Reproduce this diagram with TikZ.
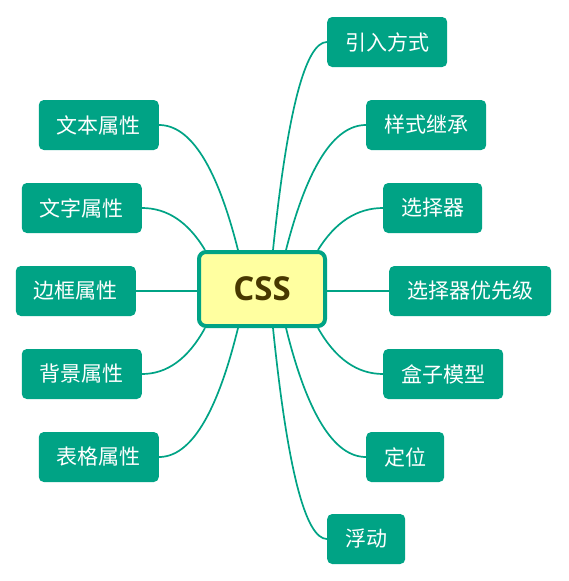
\documentclass[tikz,border=0pt]{standalone}
\usepackage{fontspec}
\usetikzlibrary{calc}
\newfontfamily\cjk{Noto Sans CJK SC}
\newfontfamily\latin{Open Sans}
\definecolor{mapgreen}{RGB}{0,163,133}
\definecolor{rootfill}{RGB}{255,255,160}
\definecolor{roottext}{RGB}{72,56,0}

\begin{document}
\begin{tikzpicture}[x=1pt, y=-1pt,
  root/.style={draw=mapgreen, line width=4pt, fill=rootfill, rounded corners=7pt,
    minimum width=126pt, minimum height=74pt, text=roottext,
    font=\latin\bfseries\fontsize{33}{36}\selectfont},
  topic/.style={fill=mapgreen, rounded corners=5pt, text=white, inner xsep=18pt,
    inner ysep=0pt, minimum height=50pt, font=\cjk\fontsize{21}{24}\selectfont},
  branch/.style={draw=mapgreen, line width=1.7pt}]
  \useasboundingbox (0,0) rectangle (568,581);

  % Central topic
  \node[root] (css) at (262,289) {CSS};

  % Right side topics (west anchor on the given point)
  \foreach \n/\t/\x/\y in {r1/引入方式/327/42, r2/样式继承/366/125, r3/选择器/383/208,
      r4/选择器优先级/389/291, r5/盒子模型/383/374, r6/定位/366/457, r7/浮动/327/539}
    \node[topic, anchor=west] (\n) at (\x,\y) {\t};

  % Left side topics (east anchor on the given point)
  \foreach \n/\t/\x/\y in {l1/文本属性/159/125, l2/文字属性/142/208, l3/边框属性/136/291,
      l4/背景属性/142/374, l5/表格属性/159/457}
    \node[topic, anchor=east] (\n) at (\x,\y) {\t};

  % Curved branches: leave the root at an offset, end level with the topic
  \foreach \n/\dx/\side/\a in {r1/11/north/west, r2/24/north/west, r3/56/north/west,
      r5/56/south/west, r6/24/south/west, r7/11/south/west,
      l1/-24/north/east, l2/-57/north/east, l4/-57/south/east, l5/-24/south/east} {
    \coordinate (s) at ([xshift=\dx pt]css.\side);
    \coordinate (q0) at ($(s)!0.4!(\n.\a)$);
    \coordinate (q) at (q0 |- \n.\a);
    \draw[branch] (s) .. controls ($(s)!2/3!(q)$) and ($(\n.\a)!2/3!(q)$) .. (\n.\a);
  }

  % Straight branches
  \draw[branch] (css.east |- r4.west) -- (r4.west);
  \draw[branch] (css.west |- l3.east) -- (l3.east);
\end{tikzpicture}
\end{document}
